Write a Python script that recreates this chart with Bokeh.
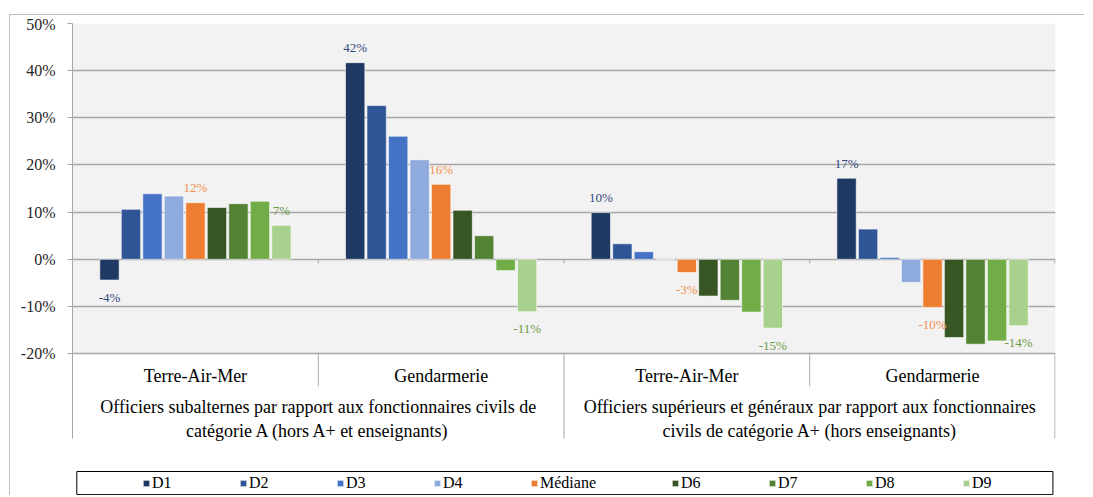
from bokeh.plotting import figure
from bokeh.models import (FactorRange, ColumnDataSource, Legend, LegendItem,
                          PrintfTickFormatter, Range1d, FixedTicker, BoxAnnotation)
from bokeh.embed import file_html
from bokeh.resources import INLINE
from bokeh.core.properties import value

# ---------------- data ----------------
populations = [
    "Officiers subalternes par rapport aux fonctionnaires civils de\ncatégorie A (hors A+ et enseignants)",
    "Officiers supérieurs et généraux par rapport aux fonctionnaires\ncivils de catégorie A+ (hors enseignants)",
]
corps = ["Terre-Air-Mer", "Gendarmerie"]
series = ["D1", "D2", "D3", "D4", "Médiane", "D6", "D7", "D8", "D9"]
colors = ["#1F3864", "#2F5597", "#4472C4", "#8FAADC", "#ED7D31",
          "#375623", "#548235", "#70AD47", "#A9D18E"]

# values (%) in order: subalternes TAM, subalternes Gend, sup TAM, sup Gend
D1 = [-4.4, 41.7, 9.9, 17.2]
D2 = [10.6, 32.6, 3.3, 6.4]
D3 = [13.9, 26.1, 1.6, 0.4]
D4 = [13.4, 21.1, 0.0, -4.9]
MED = [12.0, 15.9, -2.8, -10.2]
D6 = [11.0, 10.4, -7.8, -16.6]
D7 = [11.8, 5.0, -8.7, -18.0]
D8 = [12.3, -2.4, -11.2, -17.3]
D9 = [7.2, -11.1, -14.6, -14.1]
values = [D1, D2, D3, D4, MED, D6, D7, D8, D9]

y_ticks = [-20, -10, 0, 10, 20, 30, 40, 50]
labelled = {"D1": "#34497A", "Médiane": "#F19050", "D9": "#6A9A45"}

groups = [(pop, c) for pop in populations for c in corps]
factors = [(pop, c, s) for (pop, c) in groups for s in series]

FONT = "Liberation Serif"
GRID = "#A6A6A6"
PAD = 2.43          # gap between sub-groups (in bar slots)
HALF = 0.5 + PAD / 2
Y_BOTTOM = -38.0    # bottom of the category-label area
Y_SUB = -26.9       # bottom of the inner separators
LEG_TOP, LEG_BOT = -45.0, -49.9   # legend box (below the category labels)

xr = FactorRange(*factors, factor_padding=0.0, subgroup_padding=PAD,
                 group_padding=PAD, range_padding=1.22,
                 range_padding_units="absolute")

# y range extends below -20% to host category labels and legend (as in Excel)
p = figure(x_range=xr, y_range=Range1d(-50.3, 50), width=1075, height=481,
           min_border_left=62, min_border_right=30, min_border_top=8,
           min_border_bottom=0, toolbar_location=None, output_backend="svg",
           background_fill_color="white", outline_line_color=None,
           x_axis_location=None, margin=(14, 0, 0, 9),
           styles={"border-left": "1px solid #BFBFBF",
                   "border-top": "1px solid #BFBFBF"})

# plot area background (only between -20% and 50%)
p.add_layout(BoxAnnotation(bottom=y_ticks[0], top=y_ticks[-1],
                           fill_color="#F2F2F2", fill_alpha=1,
                           line_color=None, level="image"))

xs, tops, fills = [], [], []
for s, vals, col in zip(series, values, colors):
    for (pop, c), v in zip(groups, vals):
        xs.append((pop, c, s))
        tops.append(v)
        fills.append(col)
src = ColumnDataSource(dict(x=xs, top=tops, color=fills))
bars = p.vbar(x="x", top="top", width=0.9, source=src, fill_color="color",
              line_color="white", line_alpha=0.6, line_width=1)

# data labels
lx, ly, lt, lc, ldy = [], [], [], [], []
for s, vals in zip(series, values):
    if s in labelled:
        for (pop, c), v in zip(groups, vals):
            lx.append((pop, c, s))
            ly.append(v)
            lt.append(f"{round(v)}%")
            lc.append(labelled[s])
            ldy.append(-15 if v >= 0 else 17)
lsrc = ColumnDataSource(dict(x=lx, y=ly, text=lt, color=lc, dy=ldy))
p.text(x="x", y="y", text="text", source=lsrc, text_color="color",
       y_offset="dy", text_align="center", text_baseline="middle",
       text_font=value(FONT), text_font_size="13px")

# category labels (two levels)
p.text(x=[(pop, c) for (pop, c) in groups], y=[-24.7] * len(groups),
       text=[c for (pop, c) in groups], text_align="center",
       text_baseline="middle", text_font=value(FONT), text_font_size="18px",
       text_color="#000000")
p.text(x=populations, y=[-33.8] * len(populations),
       text=populations, text_align="center", text_baseline="middle",
       text_font=value(FONT), text_font_size="18px", text_color="#000000",
       text_line_height=1.2)

# separators between categories + ticks on the 0% axis
sx, sy0, sy1 = [], [], []
for i, (pop, c) in enumerate(groups):
    last = i == len(groups) - 1
    off = HALF - (0.02 if last else 0)
    sx.append((pop, c, series[-1], off))
    sy0.append(y_ticks[0])
    sy1.append(Y_BOTTOM if (c == corps[-1]) else Y_SUB)
    sx.append((pop, c, series[-1], off))
    sy0.append(0)
    sy1.append(-0.9)
p.segment(x0=sx, x1=sx, y0=sy0, y1=sy1, line_color=GRID, line_width=1)

# legend box
first, lastg = groups[0], groups[-1]
p.quad(left=[(first[0], first[1], series[0], -1.52)],
       right=[(lastg[0], lastg[1], series[-1], 1.6)],
       top=[LEG_TOP], bottom=[LEG_BOT], fill_color=None,
       line_color="black", line_width=1)

# y axis
p.yaxis.ticker = FixedTicker(ticks=y_ticks)
p.yaxis.bounds = (Y_BOTTOM, y_ticks[-1])
p.yaxis.formatter = PrintfTickFormatter(format="%d%%")
p.yaxis.axis_line_color = GRID
p.yaxis.major_tick_line_color = GRID
p.yaxis.major_tick_out = 5
p.yaxis.major_tick_in = 0
p.yaxis.minor_tick_line_color = None
p.yaxis.major_label_text_font = FONT
p.yaxis.major_label_text_font_size = "16px"
p.yaxis.major_label_text_color = "#262626"
p.yaxis.major_label_standoff = 12
p.ygrid.grid_line_color = GRID
p.ygrid.grid_line_width = 1.5
p.xgrid.grid_line_color = None

# legend
n = len(groups)
items = [LegendItem(label=s, renderers=[bars], index=k * n)
         for k, s in enumerate(series)]
common = dict(orientation="horizontal", border_line_color=None,
              background_fill_alpha=0, glyph_width=8, glyph_height=8,
              label_standoff=2, label_width=20, spacing=67, padding=0,
              margin=0, label_text_font=FONT, label_text_font_size="16px",
              label_text_color="#000000")
p.add_layout(Legend(items=items[:5], location=(70, 4), **common), "center")
p.add_layout(Legend(items=items[5:], location=(599, 4), **common), "center")

open("out.html", "w").write(file_html(p, INLINE))
